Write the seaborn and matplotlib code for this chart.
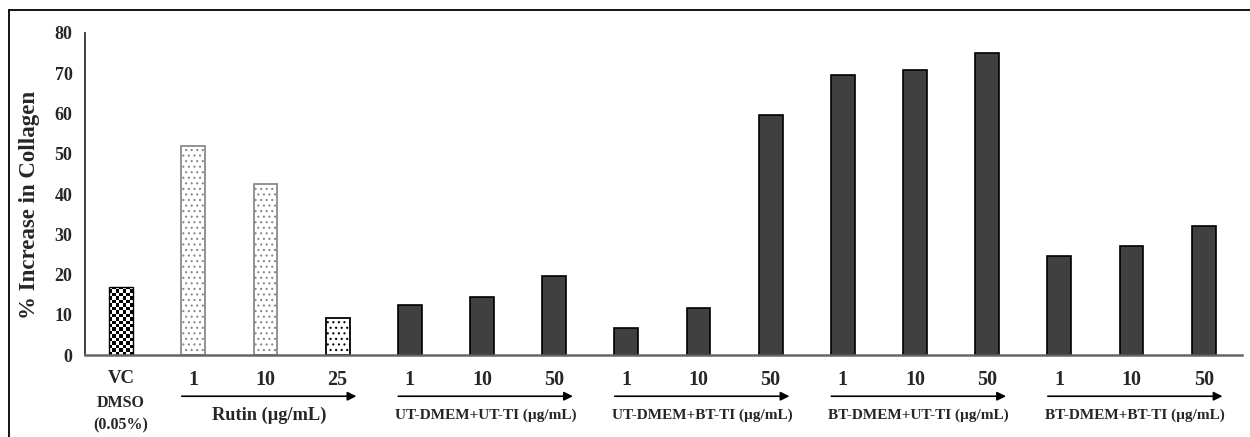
import numpy as np
import pandas as pd
import matplotlib
matplotlib.use("Agg")
import matplotlib.pyplot as plt
import seaborn as sns
from matplotlib.lines import Line2D

# ---- data ---------------------------------------------------------------
group_labels = ["", "Rutin (µg/mL)", "UT-DMEM+UT-TI (µg/mL)", "UT-DMEM+BT-TI (µg/mL)",
                "BT-DMEM+UT-TI (µg/mL)", "BT-DMEM+BT-TI (µg/mL)"]
group_index = [0, 1, 1, 1, 2, 2, 2, 3, 3, 3, 4, 4, 4, 5, 5, 5]
dose_labels = ["VC", "1", "10", "25",
               "1", "10", "50", "1", "10", "50",
               "1", "10", "50", "1", "10", "50"]
vehicle_note = ["DMSO", "(0.05%)"]
collagen_increase = [16.9, 51.9, 42.4, 9.2,
                     12.5, 14.3, 19.6,
                     6.6, 11.6, 59.6,
                     69.6, 70.9, 75.1,
                     24.5, 27.0, 32.0]

sample_id = [f"s{i}" for i in range(len(collagen_increase))]
df = pd.DataFrame({"sample": sample_id, "value": collagen_increase, "group": group_index})

# ---- style --------------------------------------------------------------
sns.set_style("white")
plt.rcParams["font.family"] = ["Liberation Serif", "DejaVu Serif"]
plt.rcParams["font.weight"] = "bold"
plt.rcParams["hatch.linewidth"] = 0.8

fig = plt.figure(figsize=(12.5, 4.37), dpi=100)
ax = fig.add_axes([0.068, 0.1876, 0.9256, 0.7369])

sns.barplot(data=df, x="sample", y="value", order=sample_id, color="#404040",
            width=0.33, ax=ax, saturation=1, errorbar=None)

dark = "#404040"
for i, bar in enumerate(ax.patches):
    g = group_index[i]
    if g == 0:
        bar.set_facecolor("white")
        bar.set_edgecolor("black")
        bar.set_linewidth(1.0)
    elif g == 1:
        bar.set_facecolor("white")
        if dose_labels[i] == "25":
            bar.set_edgecolor("black")
        else:
            bar.set_edgecolor("#8a8a8a")
        bar.set_hatch("...")
        bar.set_linewidth(1.3)
    else:
        bar.set_facecolor(dark)
        bar.set_edgecolor("black")
        bar.set_linewidth(1.2)

ax.set_xlim(-0.5, 15.53)
ax.set_ylim(0, 80)
ax.set_yticks(np.arange(0, 81, 10))

# checkerboard fill for the vehicle-control bar
fig.canvas.draw()
vc = ax.patches[0]
x0, y0 = vc.get_x(), vc.get_y()
w, h = vc.get_width(), vc.get_height()
bb = vc.get_window_extent()
nx = 7
ny = max(1, int(round(bb.height / (bb.width / nx))))
checker = (np.add.outer(np.arange(ny), np.arange(nx)) % 2).astype(float)
im = ax.imshow(checker, cmap="gray", extent=(x0, x0 + w, y0, y0 + h),
               interpolation="nearest", aspect="auto", origin="lower", zorder=vc.get_zorder())
im.set_clip_path(vc)
vc.set_zorder(vc.get_zorder() + 0.1)
vc.set_facecolor("none")
ax.set_xlim(-0.5, 15.53)
ax.set_ylim(0, 80)

# axes decoration
sns.despine(ax=ax)
ax.spines["left"].set_color("#333333")
ax.spines["left"].set_linewidth(1.3)
ax.spines["bottom"].set_color("#666666")
ax.spines["bottom"].set_linewidth(1.8)
ax.tick_params(axis="y", direction="out", length=5, width=1.1, color="#333333",
               labelsize=13, pad=4)
ax.tick_params(axis="x", length=0, labelsize=14.4, pad=11)
ax.set_xticks(range(len(dose_labels)))
ax.set_xticklabels(dose_labels, fontweight="bold")
ax.get_xticklabels()[0].set_fontsize(13.5)
for lab in ax.get_yticklabels():
    lab.set_fontweight("bold")
ax.set_xlabel("")
ax.set_ylabel("% Increase in Collagen", fontsize=16.5, fontweight="bold")
ax.yaxis.set_label_coords(-0.039, 0.466)

trans = ax.get_xaxis_transform()

# vehicle description under the VC label
for line, yy in zip(vehicle_note, (-0.149, -0.217)):
    ax.text(0, yy, line, transform=trans, ha="center", va="center",
            fontsize=11.5, fontweight="bold", clip_on=False)

# group arrows and captions under the dose labels
for g in range(1, len(group_labels)):
    idx = [i for i, gi in enumerate(group_index) if gi == g]
    start, end = idx[0] - 0.16, idx[-1] + 0.26
    ax.annotate("", xy=(end, -0.128), xytext=(start, -0.128), xycoords=trans,
                textcoords=trans, annotation_clip=False,
                arrowprops=dict(arrowstyle="-|>", color="black", lw=1.2,
                                mutation_scale=13, shrinkA=0, shrinkB=0))
    size = 13.2 if g == 1 else 11
    ax.text((start + end) / 2, -0.187, group_labels[g], transform=trans,
            ha="center", va="center", fontsize=size, fontweight="bold",
            clip_on=False)

# outer frame
fig.add_artist(Line2D([9 / 1250, 9 / 1250], [0, 1 - 10 / 437], transform=fig.transFigure,
                      color="black", lw=1.3))
fig.add_artist(Line2D([9 / 1250, 1], [1 - 10 / 437, 1 - 10 / 437], transform=fig.transFigure,
                      color="black", lw=1.3))

fig.savefig("out.png", dpi=100)
